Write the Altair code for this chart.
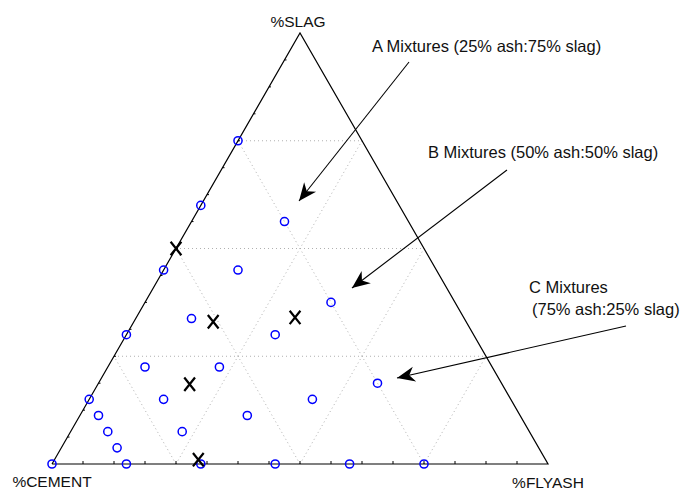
import math
import numpy as np
import pandas as pd
import altair as alt

# ---- data (percentages) ----
circ_cement = [100, 85, 70, 55, 40, 25, 85, 70, 55, 40, 25, 85, 70, 55, 40, 25, 85, 70, 55, 40, 25, 85, 70, 55, 40, 25]
circ_slag   = [0, 0, 0, 0, 0, 0, 15, 30, 45, 60, 75, 11.25, 22.5, 33.75, 45, 56.25, 7.5, 15, 22.5, 30, 37.5, 3.75, 7.5, 11.25, 15, 18.75]
circ_ash    = [0, 15, 30, 45, 60, 75, 0, 0, 0, 0, 0, 3.75, 7.5, 11.25, 15, 18.75, 7.5, 15, 22.5, 30, 37.5, 11.25, 22.5, 33.75, 45, 56.25]

x_cement = [50, 51, 34, 63, 70]
x_slag   = [50, 33, 34, 18.5, 1]
x_ash    = [0, 16, 32, 18.5, 29]

grid_levels = [0.25, 0.5, 0.75]
corner_labels = ["%SLAG", "%CEMENT", "%FLYASH"]

# annotation texts and arrows (in plot coordinates u = ash + slag/2, s = slag)
note_text = ["A Mixtures (25% ash:75% slag)", "B Mixtures (50% ash:50% slag)", "C Mixtures", "(75% ash:25% slag)"]
note_u = [0.645, 0.758, 0.9617, 0.9677]
note_s = [0.9675, 0.7216, 0.4084, 0.3573]

arrow_u0 = [0.7198, 0.9173, 1.1573]
arrow_s0 = [0.9327, 0.6821, 0.3202]
arrow_u1 = [0.4980, 0.6048, 0.6956]
arrow_s1 = [0.6102, 0.4084, 0.1995]

# ---- geometry ----
PX_U = 496.0
PX_S = 431.0
W, H = 678, 477
PAD_B = 6
xdom = [-(52 - 8) / PX_U, -(52 - 8) / PX_U + W / PX_U]
ymax = (464 - 8) / PX_S
ydom = [ymax - H / PX_S, ymax]
xs = alt.Scale(domain=xdom, nice=False, zero=False)
ys = alt.Scale(domain=ydom, nice=False, zero=False)


def to_uv(c, s, a):
    s = np.asarray(s) / 100.0
    a = np.asarray(a) / 100.0
    return a + s / 2.0, s


cu, cs = to_uv(circ_cement, circ_slag, circ_ash)
circles = pd.DataFrame({"u": cu, "s": cs})
xu, xsv = to_uv(x_cement, x_slag, x_ash)
xmarks = pd.DataFrame({"u": xu, "s": xsv})

tri = pd.DataFrame({"u": [0, 1, 0.5, 0], "s": [0, 0, 1, 0], "o": [0, 1, 2, 3]})

g = []
for k in grid_levels:
    g.append({"u": k / 2, "s": k, "u2": 1 - k / 2, "s2": k})           # slag = k
    g.append({"u": k, "s": 0, "u2": k + (1 - k) / 2, "s2": 1 - k})      # ash = k
    g.append({"u": 1 - k, "s": 0, "u2": (1 - k) / 2, "s2": 1 - k})      # cement = k
grid = pd.DataFrame(g)

t = []
for k in np.arange(1, 16) / 16.0:
    t.append({"u": k, "s": 0, "u2": k, "s2": 3 / PX_S})
    t.append({"u": k / 2, "s": k, "u2": k / 2 + 2 / PX_U, "s2": k})
ticks = pd.DataFrame(t)

labels = pd.DataFrame({"u": [0.496, 0.0, 1.0], "s": [1.0255, -0.0418, -0.044], "t": corner_labels})
notes = pd.DataFrame({"u": note_u, "s": note_s, "t": note_text})

arr = pd.DataFrame({"u": arrow_u0, "s": arrow_s0, "u2": arrow_u1, "s2": arrow_s1})
arr["ang"] = [
    (math.degrees(math.atan2((b - a) * PX_U, (d - c) * PX_S)) + 360) % 360
    for a, b, c, d in zip(arrow_u0, arrow_u1, arrow_s0, arrow_s1)
]

FONT = "Liberation Sans"

grid_layer = alt.Chart(grid).mark_rule(color="#b0b0b0", strokeDash=[1, 3], strokeWidth=1).encode(
    x=alt.X("u:Q", scale=xs, axis=None), y=alt.Y("s:Q", scale=ys, axis=None), x2="u2:Q", y2="s2:Q")

tri_layer = alt.Chart(tri).mark_line(color="black", strokeWidth=1.2).encode(
    x=alt.X("u:Q", scale=xs, axis=None), y=alt.Y("s:Q", scale=ys, axis=None), order="o:Q")

tick_layer = alt.Chart(ticks).mark_rule(color="black", strokeWidth=1).encode(
    x=alt.X("u:Q", scale=xs, axis=None), y=alt.Y("s:Q", scale=ys, axis=None), x2="u2:Q", y2="s2:Q")

circ_layer = alt.Chart(circles).mark_point(shape="circle", filled=False, color="#0000ff", size=66,
                                           strokeWidth=1.5, opacity=1).encode(
    x=alt.X("u:Q", scale=xs, axis=None), y=alt.Y("s:Q", scale=ys, axis=None))

x_layer = alt.Chart(xmarks).mark_point(shape="M-0.8,-1L0.8,1M0.8,-1L-0.8,1", filled=False, color="black",
                                       size=180, strokeWidth=2.2, opacity=1).encode(
    x=alt.X("u:Q", scale=xs, axis=None), y=alt.Y("s:Q", scale=ys, axis=None))

arrow_lines = alt.Chart(arr).mark_rule(color="black", strokeWidth=1.1).encode(
    x=alt.X("u:Q", scale=xs, axis=None), y=alt.Y("s:Q", scale=ys, axis=None), x2="u2:Q", y2="s2:Q")

arrow_heads = alt.Chart(arr).mark_point(shape="M0,0L0.85,2L0,1.4L-0.85,2Z", filled=True, color="black",
                                        size=320, opacity=1).encode(
    x=alt.X("u2:Q", scale=xs, axis=None), y=alt.Y("s2:Q", scale=ys, axis=None), angle=alt.Angle("ang:Q", scale=None))

label_layer = alt.Chart(labels).mark_text(font=FONT, fontSize=15.5, color="#111111", align="center", baseline="middle").encode(
    x=alt.X("u:Q", scale=xs, axis=None), y=alt.Y("s:Q", scale=ys, axis=None), text="t:N")

note_layer = alt.Chart(notes).mark_text(font=FONT, fontSize=16.5, color="#111111", align="left", baseline="middle").encode(
    x=alt.X("u:Q", scale=xs, axis=None), y=alt.Y("s:Q", scale=ys, axis=None), text="t:N")

chart = alt.layer(
    grid_layer, tick_layer, tri_layer, arrow_lines, arrow_heads, circ_layer, x_layer, label_layer, note_layer
).properties(
    width=W, height=H, autosize=alt.AutoSizeParams(type="none"),
    padding={"left": 0, "top": 0, "right": 0, "bottom": PAD_B}
).configure_view(stroke=None)

chart.save("out.html", embed_options={"renderer": "svg", "actions": False})
